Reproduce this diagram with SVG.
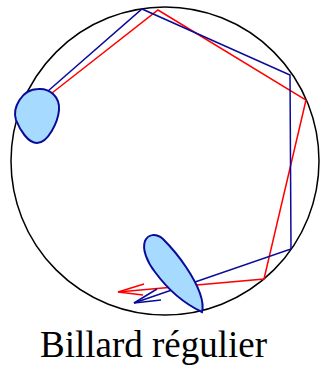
<svg xmlns="http://www.w3.org/2000/svg" width="324" height="366" viewBox="0 0 324 366">
<style>
.blue{fill:none;stroke:#0a0a99;stroke-width:1.5;stroke-linejoin:miter}
.red{fill:none;stroke:#ff0000;stroke-width:1.5;stroke-linejoin:miter}
.blob{fill:#a6dbff;stroke:#0a0a99;stroke-width:2}
.lbl{font-family:"Liberation Serif","Times New Roman",serif;font-size:37px;fill:#000}
</style>
<rect width="324" height="366" fill="#fff"/>
<g id="table"><circle cx="165" cy="161" r="154" fill="none" stroke="#000" stroke-width="1.5"/></g>
<g id="connectors">
<polyline class="red" points="52,93 158,10 306,100 264,279 118,292"/>
<polyline class="red" points="144,284 118,292 143,295"/>
<polyline class="blue" points="48,91 142,9 290,75 291,249 134,303"/>
<polyline class="blue" points="157,289 134,303 161,300"/>
</g>
<g id="blob1"><path class="blob" d="M38,89 C50,88 60,97 59,110 C58,122 48,143 37,143 C28,143 20,130 16,120 C12,108 22,89 38,89 Z"/></g>
<g id="blob2"><path class="blob" d="M202,312 C205,300 196,282 186,267 C178,255 170,246 163,239 C156,233 148,234 145,241 C142,249 147,262 155,272 C166,287 183,303 202,312 Z"/></g>
<g id="title"><text class="lbl" x="153.5" y="357" text-anchor="middle">Billard régulier</text></g>
</svg>
